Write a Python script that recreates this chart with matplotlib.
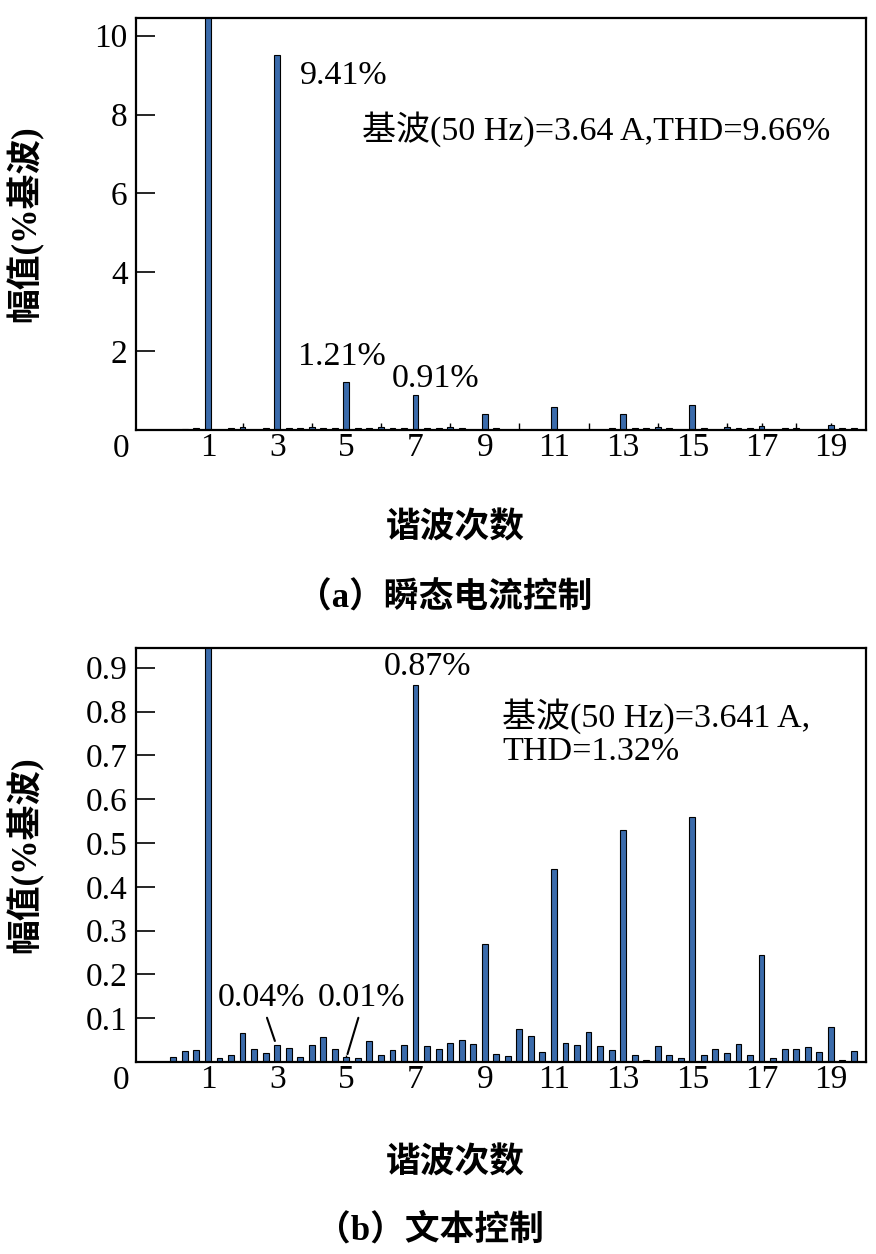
import matplotlib
matplotlib.use('Agg')
import matplotlib.pyplot as plt
import numpy as np

plt.rcParams['font.family'] = ['Liberation Serif', 'Noto Sans CJK SC']
plt.rcParams['axes.unicode_minus'] = False

# 谐波次数：每 1/3 次一个分量，共 60 个
orders = np.arange(60) / 3

# (a) 瞬态电流控制，幅值(%基波)
amp_a = [0.0, 0.02, 0.05, 100, 0.0, 0.05, 0.07, 0.0, 0.05, 9.5,
         0.05, 0.05, 0.08, 0.05, 0.05, 1.21, 0.05, 0.05, 0.07, 0.05,
         0.05, 0.89, 0.05, 0.05, 0.07, 0.05, 0.0, 0.41, 0.05, 0.0,
         0.0, 0.0, 0.0, 0.58, 0.0, 0.0, 0.0, 0.0, 0.05, 0.41,
         0.05, 0.05, 0.07, 0.05, 0.0, 0.63, 0.04, 0.0, 0.07, 0.05,
         0.05, 0.09, 0.0, 0.05, 0.05, 0.0, 0.0, 0.13, 0.05, 0.05]

# (b) 文本控制，幅值(%基波)
amp_b = [0.011, 0.025, 0.027, 100, 0.008, 0.016, 0.066, 0.030, 0.020, 0.038,
         0.033, 0.011, 0.039, 0.058, 0.030, 0.011, 0.008, 0.047, 0.016, 0.027,
         0.039, 0.86, 0.037, 0.030, 0.044, 0.051, 0.042, 0.27, 0.019, 0.014,
         0.075, 0.059, 0.022, 0.44, 0.044, 0.039, 0.068, 0.037, 0.027, 0.53,
         0.015, 0.005, 0.037, 0.015, 0.010, 0.56, 0.015, 0.030, 0.020, 0.041,
         0.015, 0.245, 0.008, 0.030, 0.030, 0.034, 0.023, 0.081, 0.004, 0.025]

xtick_major = [1, 3, 5, 7, 9, 11, 13, 15, 17, 19]
xtick_minor = [2, 4, 6, 8, 10, 12, 14, 16, 18]
yticks_a = [2, 4, 6, 8, 10]
yticks_b = [0.1, 0.2, 0.3, 0.4, 0.5, 0.6, 0.7, 0.8, 0.9]

bar_color = '#3b6bab'
fs_tick = 24
fs_note = 24.5
fs_label = 25

fig = plt.figure(figsize=(8.76, 12.54), dpi=100)
ax1 = fig.add_axes([136 / 876, 1 - 430 / 1254, 730 / 876, 412 / 1254])
ax2 = fig.add_axes([136 / 876, 1 - 1062 / 1254, 730 / 876, 414 / 1254])


def style_axes(ax, values, ylim, yticks, ylabels, xlab_y):
    ax.bar(orders, values, width=0.17, color=bar_color,
           edgecolor='black', linewidth=0.8, zorder=2)
    ax.set_xlim(-1.08, 20.02)
    ax.set_ylim(0, ylim)
    ax.set_xticks(xtick_major)
    ax.set_xticks(xtick_minor, minor=True)
    ax.set_xticklabels([str(v) for v in xtick_major])
    ax.set_yticks(yticks)
    ax.set_yticklabels(ylabels)
    ax.tick_params(axis='x', which='both', direction='in', length=5,
                   width=1, pad=2, labelsize=fs_tick)
    ax.tick_params(axis='y', direction='in', length=14, width=1.2,
                   pad=6, labelsize=fs_tick)
    for sp in ax.spines.values():
        sp.set_linewidth(1.6)
    ax.text(-0.02, -0.008, '0', transform=ax.transAxes, ha='center',
            va='top', fontsize=fs_tick)
    ax.set_ylabel('幅值(%基波)', fontsize=fs_label, fontweight='bold')
    ax.yaxis.set_label_coords(-0.127, 0.5)
    ax.set_xlabel('谐波次数', fontsize=fs_label, fontweight='bold')
    ax.xaxis.set_label_coords(0.437, xlab_y)


style_axes(ax1, amp_a, 10.45, yticks_a, [str(v) for v in yticks_a], -0.2)
style_axes(ax2, amp_b, 0.945, yticks_b, [f'{v:.1f}' for v in yticks_b], -0.205)

# (a) 标注
ax1.text(3.66, 8.98, '9.41%', fontsize=fs_note, va='center')
ax1.text(5.46, 7.63, '基波(50 Hz)=3.64 A,THD=9.66%', fontsize=fs_note, va='center')
ax1.text(3.6, 1.85, '1.21%', fontsize=fs_note, va='center')
ax1.text(6.32, 1.29, '0.91%', fontsize=fs_note, va='center')

# (b) 标注
ax2.text(6.09, 0.902, '0.87%', fontsize=fs_note, va='center')
ax2.text(9.51, 0.79, '基波(50 Hz)=3.641 A,', fontsize=fs_note, va='center')
ax2.text(9.51, 0.708, 'THD=1.32%', fontsize=fs_note, va='center')
ax2.text(1.29, 0.146, '0.04%', fontsize=fs_note, va='center')
ax2.text(4.18, 0.146, '0.01%', fontsize=fs_note, va='center')
ax2.annotate('', xy=(2.96, 0.042), xytext=(2.68, 0.107),
             arrowprops=dict(arrowstyle='-', color='black', lw=1.5))
ax2.annotate('', xy=(5.01, 0.012), xytext=(5.37, 0.107),
             arrowprops=dict(arrowstyle='-', color='black', lw=1.5))

fig.text(445 / 876, 1 - 599 / 1254, '（a）瞬态电流控制', fontsize=fs_label,
         fontweight='bold', ha='center', va='center')
fig.text(430 / 876, 1 - 1231 / 1254, '（b）文本控制', fontsize=fs_label,
         fontweight='bold', ha='center', va='center')

fig.savefig('out.png', dpi=100)
